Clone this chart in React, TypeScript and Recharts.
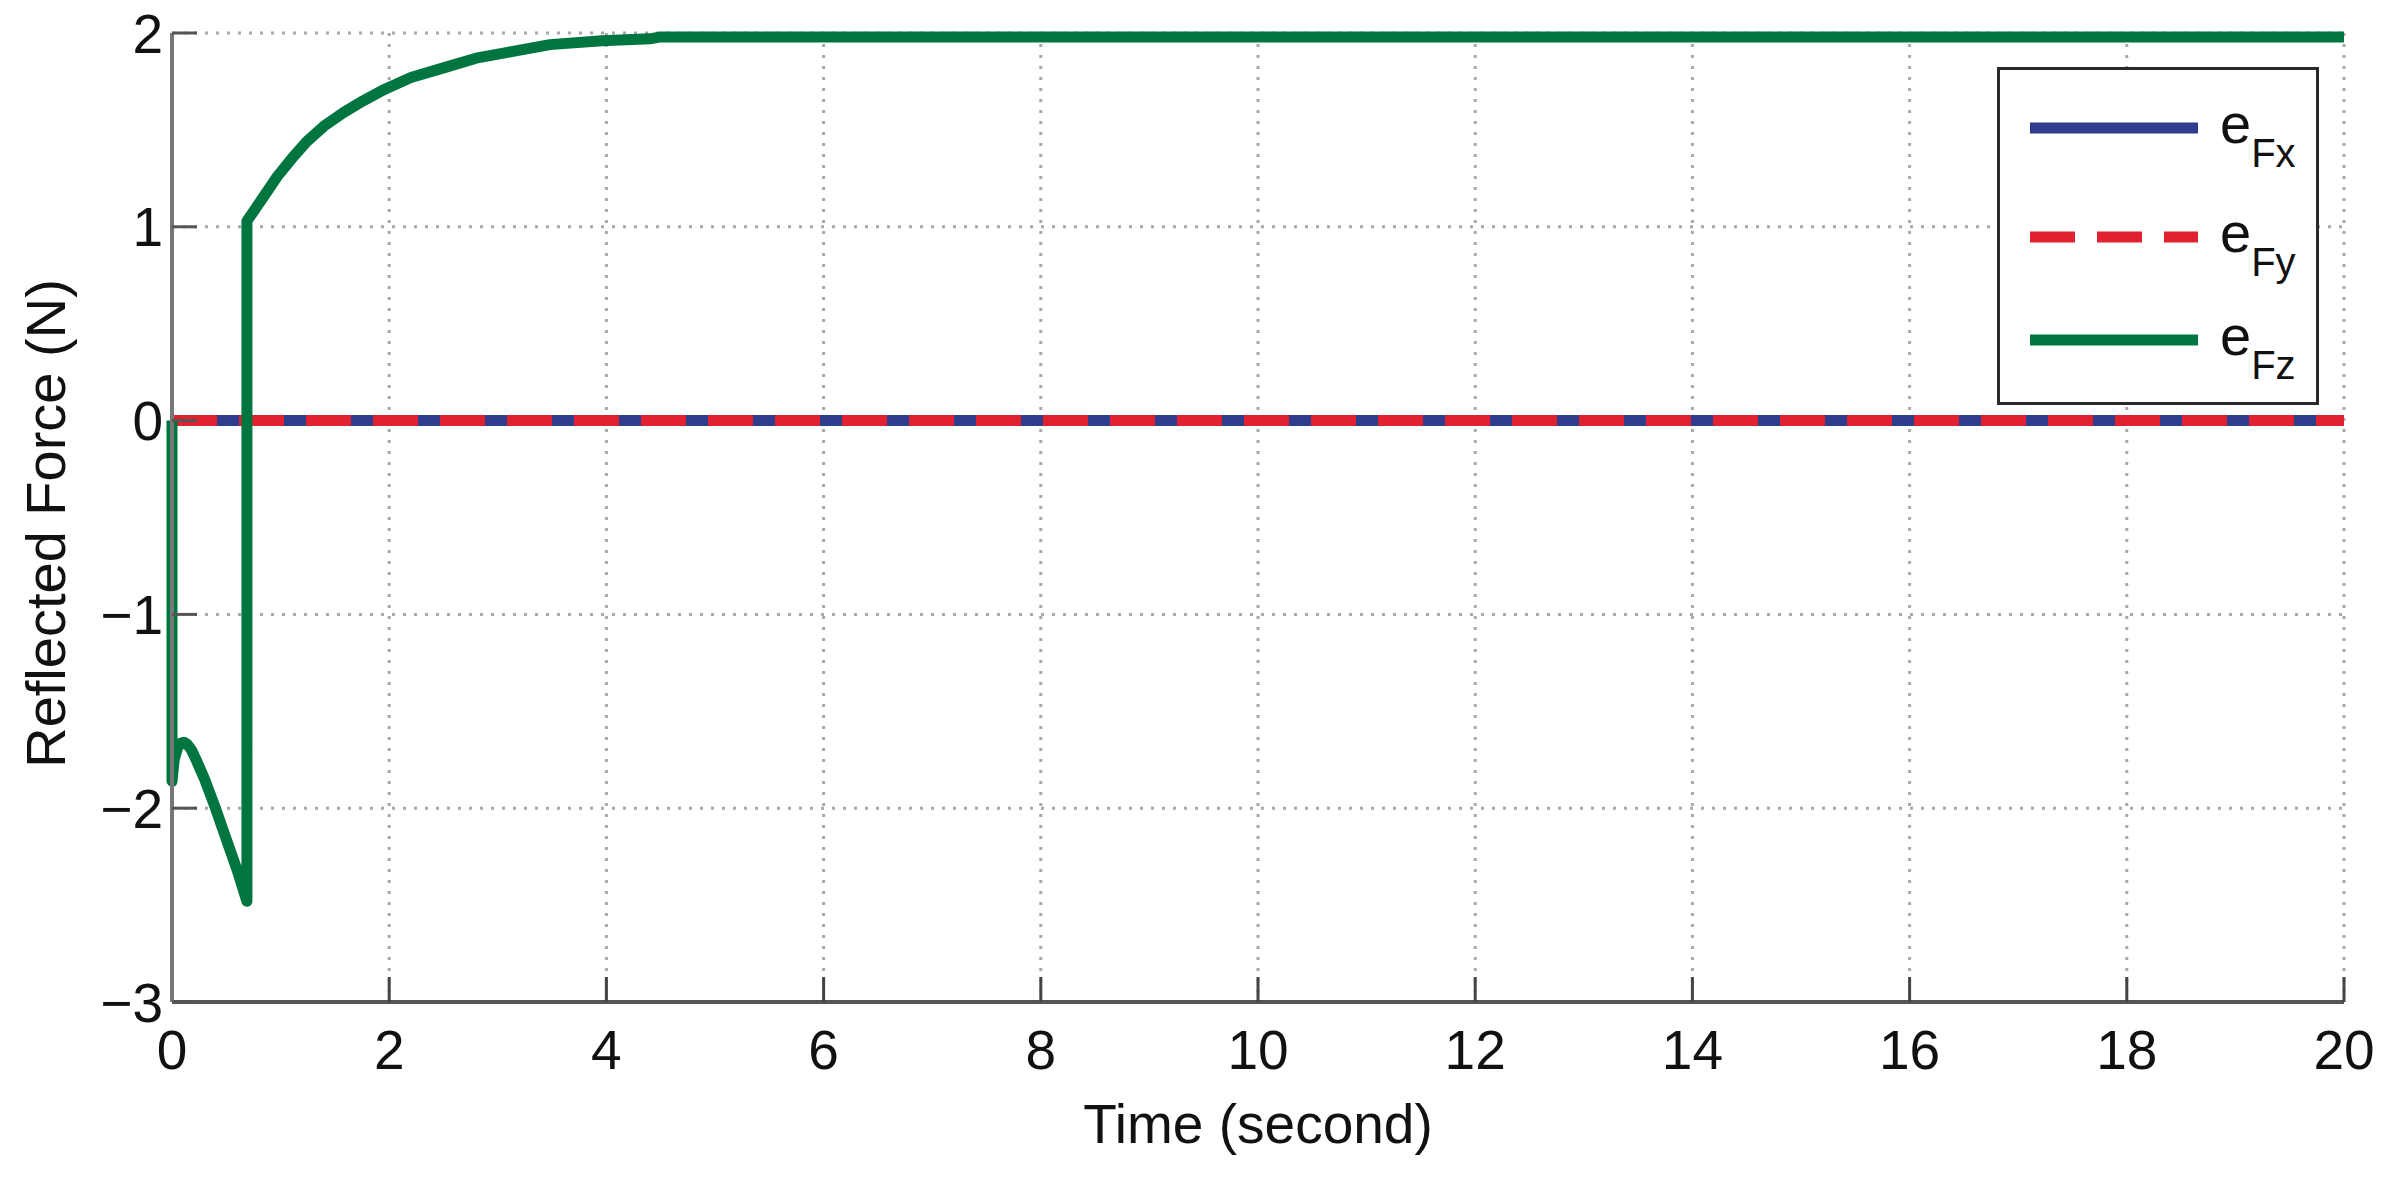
import React from 'react';
import { LineChart, Line, XAxis, YAxis, CartesianGrid, Legend, Label } from 'recharts';

// axes
const TIME_TICKS = [0, 2, 4, 6, 8, 10, 12, 14, 16, 18, 20];
const FORCE_TICKS = [-3, -2, -1, 0, 1, 2];

// e_Fx, e_Fy stay at zero the whole run
const FX_TIME = [0, 20];
const FX_FORCE = [0, 0];
const FY_TIME = [0, 20];
const FY_FORCE = [0, 0];

// e_Fz
const FZ_TIME = [
  0, 0, 0.02, 0.05, 0.08, 0.11, 0.14, 0.18, 0.23, 0.3, 0.4, 0.5, 0.6, 0.69, 0.69,
  0.8, 0.97, 1.1, 1.24, 1.4, 1.58, 1.76, 1.96, 2.2, 2.5, 2.8, 3.09, 3.48, 3.96, 4.4, 4.5, 20,
];
const FZ_FORCE = [
  0, -1.86, -1.75, -1.69, -1.665, -1.66, -1.67, -1.7, -1.76, -1.85, -2.0, -2.16, -2.32, -2.48, 1.03,
  1.12, 1.26, 1.35, 1.44, 1.52, 1.59, 1.65, 1.71, 1.77, 1.82, 1.87, 1.9, 1.94, 1.96, 1.97, 1.98, 1.98,
];

const SERIES_NAMES = ['eFx', 'eFy', 'eFz'];

const STYLE: Record<string, { color: string; dash?: string }> = {
  eFx: { color: '#2f3d8f' },
  eFy: { color: '#e0212f', dash: '45 22' },
  eFz: { color: '#00753f' },
};

const zip = (t: number[], v: number[]) => t.map((x, i) => ({ t: x, v: v[i] }));

const seriesData: Record<string, { t: number; v: number }[]> = {
  eFx: zip(FX_TIME, FX_FORCE),
  eFy: zip(FY_TIME, FY_FORCE),
  eFz: zip(FZ_TIME, FZ_FORCE),
};

const FONT = '"Liberation Sans", Arial, sans-serif';
const TEXT = '#111';
const ROW_Y = [58, 167, 270];

const minus = (v: number) => String(v).replace('-', '\u2212');

function LegendBox() {
  return (
    <div
      style={{
        width: 322,
        height: 338,
        boxSizing: 'border-box',
        border: '3px solid #2a2a2a',
        background: '#fff',
      }}
    >
      <svg width={316} height={332} style={{ display: 'block' }}>
        {SERIES_NAMES.map((name, i) => {
          const cy = ROW_Y[i];
          const s = STYLE[name];
          return (
            <g key={name}>
              <line
                x1={30}
                x2={198}
                y1={cy}
                y2={cy}
                stroke={s.color}
                strokeWidth={11}
                strokeDasharray={s.dash}
              />
              <text x={220} y={cy + 15} fontSize={56} fill={TEXT} fontFamily={FONT}>
                e
                <tspan fontSize={40} dy={24}>
                  {name.slice(1)}
                </tspan>
              </text>
            </g>
          );
        })}
      </svg>
    </div>
  );
}

export default function App() {
  const tickStyle = { fill: TEXT, fontSize: 55, fontFamily: FONT };

  return (
    <div style={{ position: 'absolute', left: 0, top: 0, background: '#fff', fontFamily: FONT }}>
      <LineChart width={2395} height={1179} margin={{ top: 33, right: 51, bottom: 0, left: 0 }}>
        <CartesianGrid stroke="#a8a8a8" strokeWidth={3} strokeDasharray="3 8" />

        <XAxis
          type="number"
          dataKey="t"
          domain={[0, 20]}
          ticks={TIME_TICKS}
          interval={0}
          height={177}
          tickSize={-25}
          tickMargin={53}
          tick={tickStyle}
          axisLine={{ stroke: '#555', strokeWidth: 4 }}
          tickLine={{ stroke: '#444', strokeWidth: 3 }}
        >
          <Label
            value="Time (second)"
            position="insideBottom"
            offset={36}
            fill={TEXT}
            fontSize={55}
            fontFamily={FONT}
          />
        </XAxis>
        <XAxis
          xAxisId="top"
          orientation="top"
          type="number"
          domain={[0, 20]}
          ticks={TIME_TICKS}
          interval={0}
          height={0}
          tickSize={-25}
          tick={false}
          axisLine={{ stroke: '#333', strokeWidth: 4 }}
          tickLine={{ stroke: '#333', strokeWidth: 3 }}
        />

        <YAxis
          type="number"
          domain={[-3, 2]}
          ticks={FORCE_TICKS}
          interval={0}
          width={172}
          tickSize={-25}
          tickMargin={34}
          tick={tickStyle}
          tickFormatter={minus}
          axisLine={{ stroke: '#777', strokeWidth: 4 }}
          tickLine={{ stroke: '#555', strokeWidth: 3 }}
        >
          <Label
            content={({ viewBox }: any) => {
              const x = viewBox.x + 65;
              const y = viewBox.y + viewBox.height / 2 + 6;
              return (
                <text
                  x={x}
                  y={y}
                  transform={`rotate(-90 ${x} ${y})`}
                  textAnchor="middle"
                  fontSize={56}
                  fill={TEXT}
                  fontFamily={FONT}
                >
                  Reflected Force (N)
                </text>
              );
            }}
          />
        </YAxis>
        <YAxis
          yAxisId="right"
          orientation="right"
          type="number"
          domain={[-3, 2]}
          ticks={FORCE_TICKS}
          interval={0}
          width={0}
          tickSize={-25}
          tick={false}
          axisLine={{ stroke: '#333', strokeWidth: 4 }}
          tickLine={{ stroke: '#333', strokeWidth: 3 }}
        />

        {SERIES_NAMES.map((name) => (
          <Line
            key={name}
            name={name}
            data={seriesData[name]}
            dataKey="v"
            type="linear"
            stroke={STYLE[name].color}
            strokeWidth={11}
            strokeDasharray={STYLE[name].dash}
            strokeLinejoin="round"
            dot={false}
            activeDot={false}
            isAnimationActive={false}
          />
        ))}

        <Legend
          layout="horizontal"
          verticalAlign="middle"
          align="center"
          content={() => <LegendBox />}
          wrapperStyle={{ left: 1997, top: 67, width: 322, height: 338 }}
        />
      </LineChart>
    </div>
  );
}
